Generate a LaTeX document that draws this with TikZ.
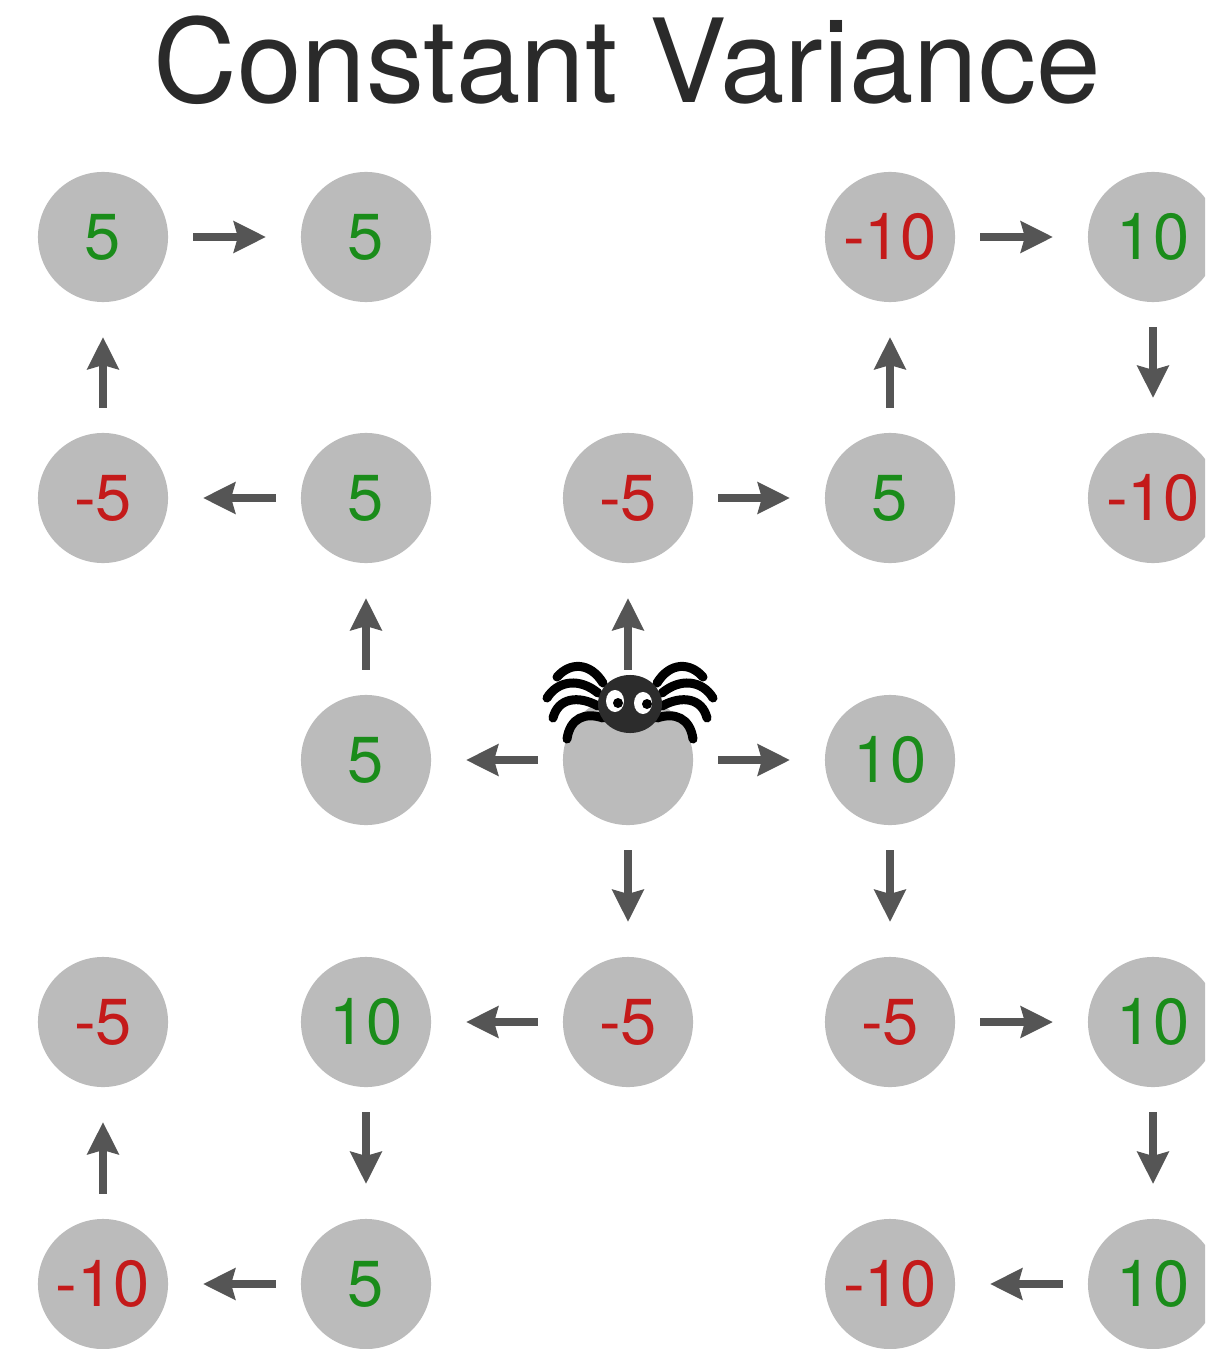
\documentclass[tikz,border=0pt]{standalone}
\usepackage{fontspec}
\setmainfont{TeX Gyre Heros}
\usepackage{tikz}
\usetikzlibrary{arrows.meta, positioning}
\definecolor{xam}{HTML}{BBBBBB}
\definecolor{xamdam}{HTML}{555555}
\definecolor{xanh}{HTML}{1A8C1A}
\definecolor{do}{HTML}{C41A1A}
\definecolor{chu}{HTML}{2A2A2A}
\definecolor{nhen}{HTML}{2C2C2C}

\begin{document}
\begin{tikzpicture}[x=0.01cm, y=-0.01cm,
    cell/.style={circle, fill=xam, minimum size=1.3cm, inner sep=0pt, outer sep=0pt, font=\fontsize{18.5}{20}\selectfont},
    duong/.style={cell, text=xanh},
    am/.style={cell, text=do},
    muiten/.style={-{Stealth[length=3.2mm, width=3.1mm, inset=0.4mm]}, line width=0.8mm, draw=xamdam, shorten <=2.5mm, shorten >=3.5mm},
    chan/.style={line width=0.9mm, line cap=round, draw=black}]

            \clip (0,0) rectangle (1205,1349); % Khung hình

            % Tiêu đề
            \node[anchor=base, text=chu, font=\fontsize{33}{40}\selectfont] (tieude) at (627,103) {Constant Variance};

            % Hàng 1
            \node[duong] (a1) at (103,237) {5};
            \node[duong] (b1) at (366,237) {5};
            \node[am] (d1) at (890,237) {-10};
            \node[duong] (e1) at (1153,237) {10};

            % Hàng 2
            \node[am] (a2) at (103,498) {-5};
            \node[duong] (b2) at (366,498) {5};
            \node[am] (c2) at (628,498) {-5};
            \node[duong] (d2) at (890,498) {5};
            \node[am] (e2) at (1153,498) {-10};

            % Hàng 3 (ô giữa có con nhện)
            \node[duong] (b3) at (366,760) {5};
            \node[cell] (c3) at (628,760) {};
            \node[duong] (d3) at (890,760) {10};

            % Hàng 4
            \node[am] (a4) at (103,1022) {-5};
            \node[duong] (b4) at (366,1022) {10};
            \node[am] (c4) at (628,1022) {-5};
            \node[am] (d4) at (890,1022) {-5};
            \node[duong] (e4) at (1153,1022) {10};

            % Hàng 5
            \node[am] (a5) at (103,1284) {-10};
            \node[duong] (b5) at (366,1284) {5};
            \node[am] (d5) at (890,1284) {-10};
            \node[duong] (e5) at (1153,1284) {10};

            % Các mũi tên
            \draw[muiten] (c3) -- (b3);
            \draw[muiten] (c3) -- (c2);
            \draw[muiten] (c3) -- (d3);
            \draw[muiten] (c3) -- (c4);
            \draw[muiten] (b3) -- (b2);
            \draw[muiten] (b2) -- (a2);
            \draw[muiten] (a2) -- (a1);
            \draw[muiten] (a1) -- (b1);
            \draw[muiten] (c2) -- (d2);
            \draw[muiten] (d2) -- (d1);
            \draw[muiten] (d1) -- (e1);
            \draw[muiten] (e1) -- (e2);
            \draw[muiten] (d3) -- (d4);
            \draw[muiten] (d4) -- (e4);
            \draw[muiten] (e4) -- (e5);
            \draw[muiten] (e5) -- (d5);
            \draw[muiten] (c4) -- (b4);
            \draw[muiten] (b4) -- (b5);
            \draw[muiten] (b5) -- (a5);
            \draw[muiten] (a5) -- (a4);

            % Con nhện: chân hai bên
            \foreach \s in {1,-1} {
              \begin{scope}[shift={(630,0)}, xscale=\s]
                \draw[chan] (-27,683) .. controls (-40,662) and (-60,662) .. (-73,677);
                \draw[chan] (-32,693) .. controls (-50,678) and (-72,680) .. (-83,698);
                \draw[chan] (-32,706) .. controls (-52,695) and (-72,698) .. (-77,718);
                \draw[chan] (-27,718) .. controls (-45,712) and (-60,718) .. (-63,739);
              \end{scope}
            }
            % thân và mắt
            \fill[nhen] (630,704) ellipse [x radius=3.2mm, y radius=2.9mm];
            \fill[white] (615,701) ellipse [x radius=0.9mm, y radius=1.1mm];
            \fill[white] (643,703) ellipse [x radius=0.9mm, y radius=1.1mm];
            \fill[black] (618,703) circle (0.5mm);
            \fill[black] (647,704) circle (0.5mm);

\end{tikzpicture}
\end{document}
